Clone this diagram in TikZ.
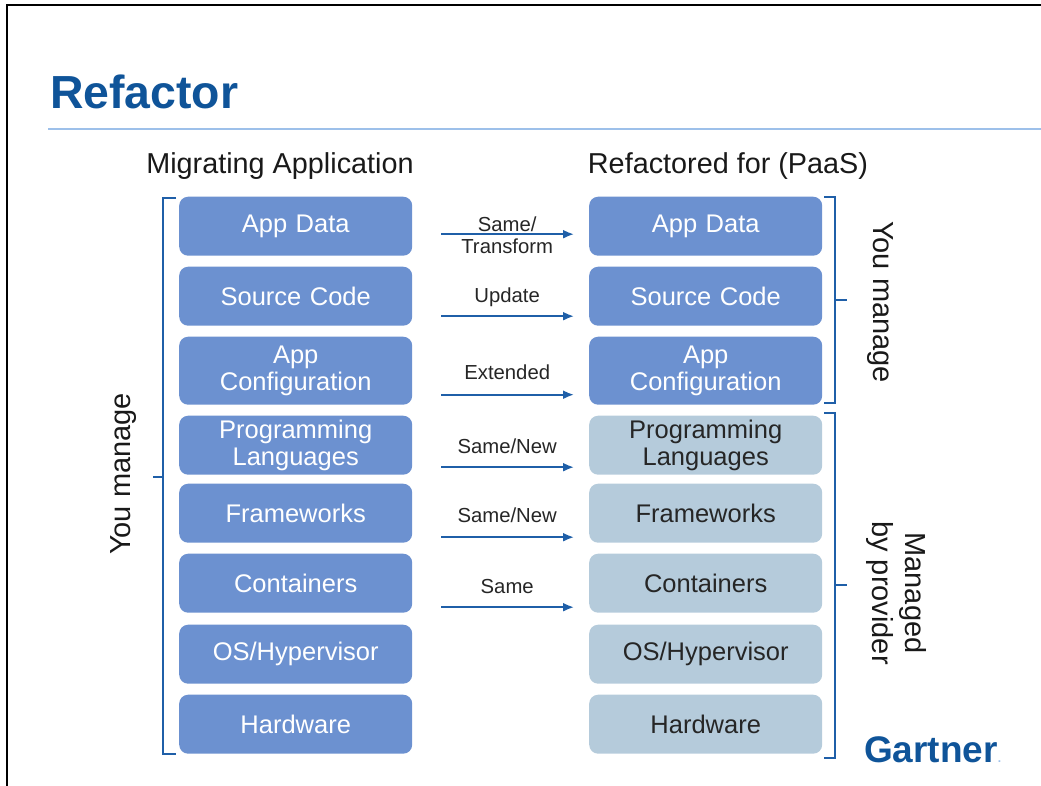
\documentclass[tikz,border=0pt]{standalone}
\usepackage{fontspec}
\setmainfont{Liberation Sans}
\usetikzlibrary{matrix,arrows.meta}
\definecolor{ownblue}{HTML}{6C91D0}
\definecolor{paleblue}{HTML}{B5CBDB}
\definecolor{linkblue}{HTML}{1F5FA8}
\definecolor{titleblue}{HTML}{0F5499}
\definecolor{ruleblue}{HTML}{9DC0EA}
\tikzset{
    layer/.style={rounded corners=9pt, minimum width=233pt, minimum height=59pt, text width=225pt, inner sep=0pt,
        anchor=center, align=center, fill=ownblue, text=white, font=\fontsize{25.5}{27}\selectfont},
    tall/.style={minimum height=68pt},
    provider/.style={fill=paleblue, text=black!85},
    flow/.style={linkblue, line width=2pt, -{Latex[length=11pt,width=9pt]}, shorten <=29pt, shorten >=15pt},
    flowlabel/.style={align=center, font=\fontsize{20.3}{22}\selectfont, text=black!85},
    bracket/.style={linkblue, line width=1.6pt},
    heading/.style={font=\fontsize{28.8}{30}\selectfont, text=black!90},
    side/.style={font=\fontsize{29}{33}\selectfont, align=center, text=black!90}
}
\begin{document}
\begin{tikzpicture}[x=1pt,y=-1pt]
    \useasboundingbox (0,0) rectangle (1041,786);
    \draw[black, line width=2pt] (7,786) -- (7,5) -- (1041,5);
    \node[font=\fontsize{46.4}{48}\selectfont\bfseries, text=titleblue, anchor=base west, inner sep=0pt] (title) at (50,109) {Refactor};
    \draw[ruleblue, line width=2pt] (48,129) -- (1041,129);
    \node[heading] (migrating) at (280,166) {Migrating Application};
    \node[heading] (refactored) at (728,166) {Refactored for (PaaS)};
    \matrix (m) [matrix of nodes, anchor=north west, inner sep=0pt, column sep=177pt, row sep=11pt,
        nodes={layer},
        row 4 column 2/.style={nodes={provider}}, row 5 column 2/.style={nodes={provider}},
        row 6 column 2/.style={nodes={provider}}, row 7 column 2/.style={nodes={provider}},
        row 8 column 2/.style={nodes={provider}}] at (179,196.5) {
        App Data & App Data \\
        Source Code & Source Code \\
        |[tall]| {App\\Configuration} & |[tall]| {App\\Configuration} \\
        {Programming\\Languages} & {Programming\\Languages} \\[-2pt]
        Frameworks & Frameworks \\
        Containers & Containers \\[1pt]
        OS/Hypervisor & OS/Hypervisor \\
        Hardware & Hardware \\
    };
    \foreach \row/\drop/\lift/\change in {1/8/9/{Same/\\Transform}, 2/20/1/Update, 3/24/2/Extended, 4/22/1/{Same/New}, 5/24/2/{Same/New}, 6/24/3/Same} {
        \draw[flow] ([yshift=-\drop pt]m-\row-1.east) -- ([yshift=-\drop pt]m-\row-2.west);
        \path (m-\row-1.east) -- (m-\row-2.west) node[flowlabel, midway, xshift=6.5pt, yshift=-\lift pt] (change\row) {\change};
    }
    \draw[bracket] (176,198) -- (163,198) -- (163,754) -- (176,754);
    \draw[bracket] (163,477) -- (153,477);
    \draw[bracket] (824,197) -- (835,197) -- (835,403) -- (824,403);
    \draw[bracket] (835,300) -- (847,300);
    \draw[bracket] (824,413) -- (835,413) -- (835,758) -- (824,758);
    \draw[bracket] (835,585) -- (847,585);
    \node[side, rotate=90] (youleft) at (124,474) {You manage};
    \node[side, rotate=-90] (youright) at (880,302) {You manage};
    \node[side, rotate=-90] (managed) at (896,593) {Managed\\by provider};
    \node[font=\fontsize{37}{39}\selectfont\bfseries, text=titleblue, anchor=base west, inner sep=0pt] (gartner) at (864,762) {Gartner\textcolor{ruleblue}{\fontsize{12}{12}\selectfont.}};
\end{tikzpicture}
\end{document}
